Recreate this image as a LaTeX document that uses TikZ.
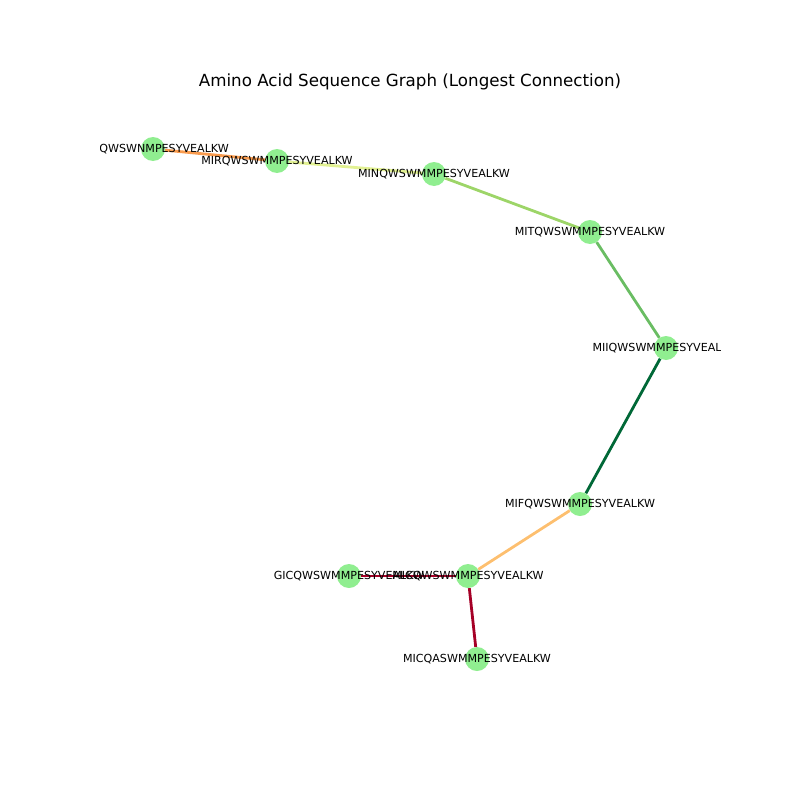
\documentclass[tikz,border=0pt]{standalone}
\usepackage{fontspec}
\setmainfont{DejaVu Sans}
\definecolor{nodegreen}{HTML}{90EE90}
\definecolor{eAB}{HTML}{F99B4E}
\definecolor{eBC}{HTML}{E2F193}
\definecolor{eCD}{HTML}{9DD568}
\definecolor{eDE}{HTML}{6ABD63}
\definecolor{eEF}{HTML}{006837}
\definecolor{eFG}{HTML}{FDBF6F}
\definecolor{eRed}{HTML}{A50026}
\begin{document}
\begin{tikzpicture}[x=1pt,y=-1pt,
  vert/.style={circle,fill=nodegreen,draw=none,minimum size=24pt,inner sep=0pt},
  lbl/.style={font=\fontsize{11.1}{13}\selectfont,inner sep=0pt,text=black},
  edge/.style={line width=2.8pt}]
\useasboundingbox (0,0) rectangle (800,800);
\node[font=\fontsize{16.7}{20}\selectfont] (title) at (410,82) {Amino Acid Sequence Graph (Longest Connection)};
\node[vert] (A) at (153,149) {};
\node[vert] (B) at (277,161) {};
\node[vert] (C) at (434,174) {};
\node[vert] (D) at (590,232) {};
\node[vert] (E) at (666,348) {};
\node[vert] (F) at (580,504) {};
\node[vert] (G) at (468,576) {};
\node[vert] (H) at (349,576) {};
\node[vert] (I) at (477,659) {};
\begin{scope}[on background layer/.style={}]
\end{scope}
\draw[edge,eAB] (A) -- (B);
\draw[edge,eBC] (B) -- (C);
\draw[edge,eCD] (C) -- (D);
\draw[edge,eDE] (D) -- (E);
\draw[edge,eEF] (E) -- (F);
\draw[edge,eFG] (F) -- (G);
\draw[edge,eRed] (G) -- (H);
\draw[edge,eRed] (G) -- (I);
\begin{scope}
\clip (100,96) rectangle (720,712);
\node[lbl,anchor=east] (lA) at (229,149) {QWSWNMPESYVEALKW};
\node[lbl] (lB) at (B) {MIRQWSWMMPESYVEALKW};
\node[lbl] (lC) at (C) {MINQWSWMMPESYVEALKW};
\node[lbl] (lD) at (D) {MITQWSWMMPESYVEALKW};
\node[lbl] (lE) at (E) {MIIQWSWMMPESYVEALKW};
\node[lbl] (lF) at (F) {MIFQWSWMMPESYVEALKW};
\node[lbl] (lH) at (H) {GICQWSWMMPESYVEALKW};
\node[lbl] (lG) at (G) {MICQWSWMMPESYVEALKW};
\node[lbl] (lI) at (I) {MICQASWMMPESYVEALKW};
\end{scope}
\end{tikzpicture}
\end{document}
